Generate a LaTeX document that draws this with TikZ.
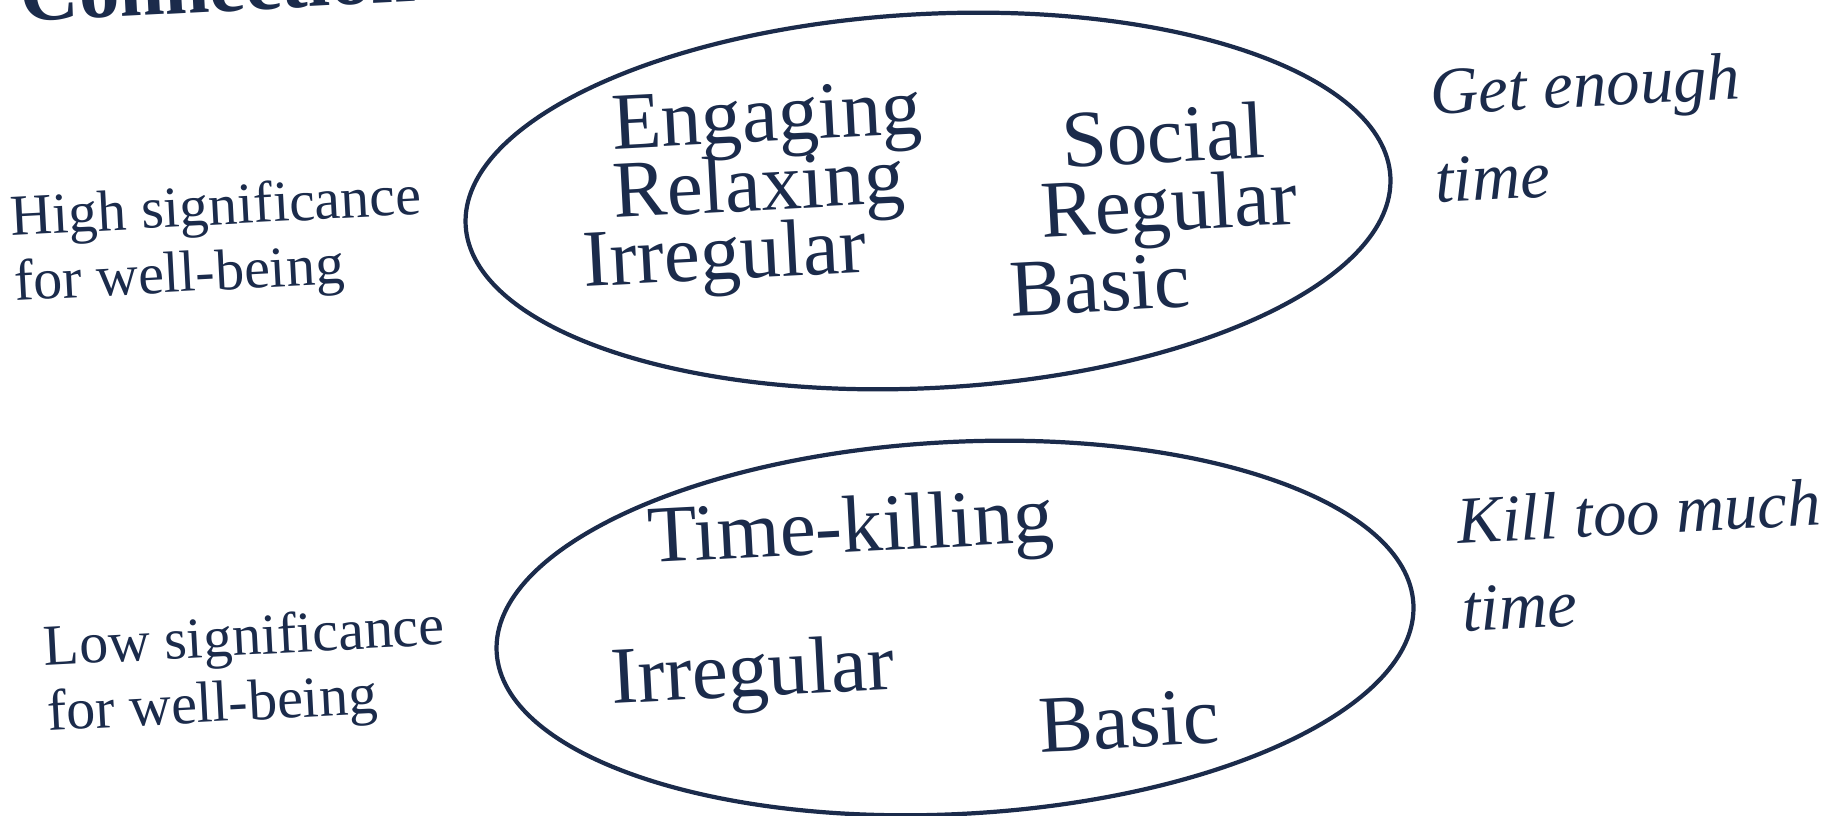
\documentclass[tikz,border=0pt]{standalone}
\usepackage{fontspec}
\setmainfont{Liberation Serif}
\usepackage{xcolor}
\usepackage{tikz}

\definecolor{ink}{HTML}{1B2B4B}

\tikzset{
	word/.style={ink, inner sep=0pt, rotate=3, font=\fontsize{23}{26}\selectfont},
	sidenote/.style={ink, inner sep=0pt, rotate=3, anchor=west, align=left, font=\fontsize{16.5}{18.5}\selectfont},
	timenote/.style={ink, inner sep=0pt, rotate=3, anchor=west, align=left, font=\itshape\fontsize{19}{25}\selectfont},
	group/.style={ink, line width=1.2pt}
}

\begin{document}
\begin{tikzpicture}[x=0.01cm,y=0.01cm]
	\useasboundingbox (0,0) rectangle (1837,-816);
	\clip (0,0) rectangle (1837,-816);

	\node[ink, anchor=base west, rotate=3, inner sep=0pt, font=\bfseries\fontsize{23}{26}\selectfont] (heading) at (21,-22) {Connection};

	% upper group
	\draw[group, rotate around={3:(928,-201)}] (928,-201) ellipse [x radius=463, y radius=187];
	\node[word] (engaging) at (767,-123) {Engaging};
	\node[word] (relaxing) at (759,-191) {Relaxing};
	\node[word] (irregularA) at (725,-260) {Irregular};
	\node[word] (social) at (1163,-135) {Social};
	\node[word] (regular) at (1169,-211) {Regular};
	\node[word] (basicA) at (1100,-285) {Basic};

	% lower group
	\draw[group, rotate around={3:(955,-628)}] (955,-628) ellipse [x radius=459, y radius=186];
	\node[word] (timekilling) at (851,-533) {Time-killing};
	\node[word] (irregularB) at (753,-677) {Irregular};
	\node[word] (basicB) at (1129,-721) {Basic};

	\node[sidenote] (high) at (12,-254) {High significance\\for well-being};
	\node[sidenote] (low) at (45,-684) {Low significance\\for well-being};

	\node[timenote] (enough) at (1432,-136) {Get enough\\time};
	\node[timenote] (toomuch) at (1459,-565) {Kill too much\\time};
\end{tikzpicture}
\end{document}
